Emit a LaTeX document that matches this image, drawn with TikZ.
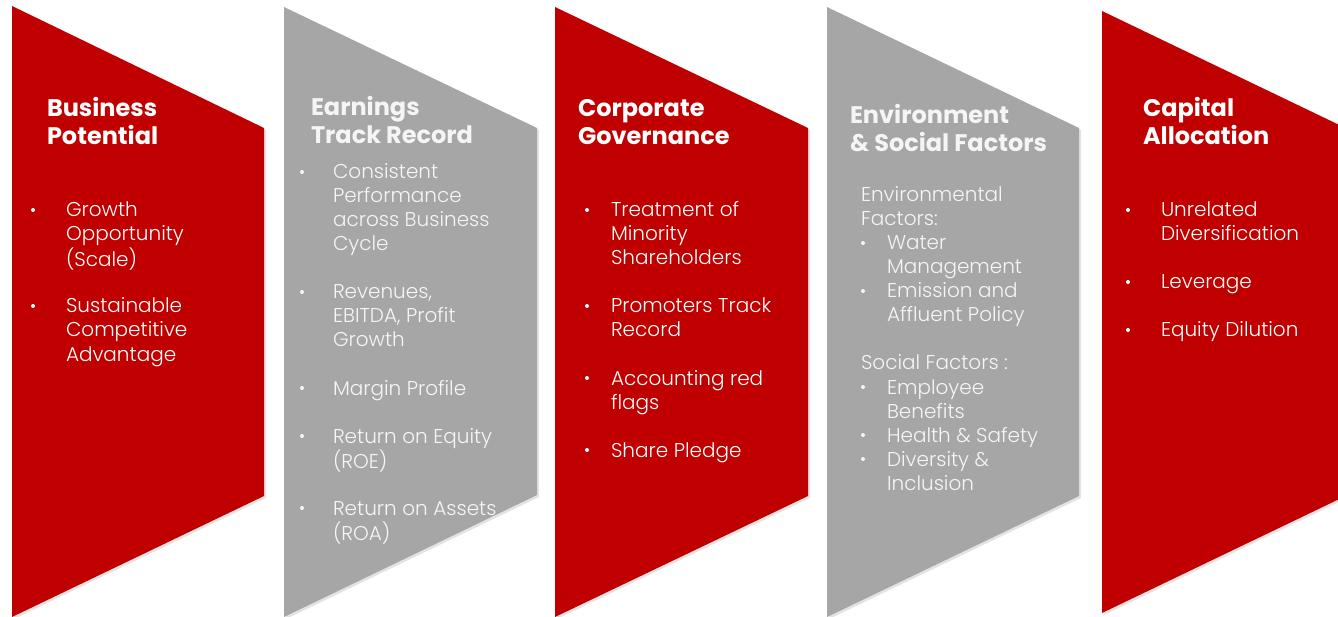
\documentclass[tikz,border=0pt]{standalone}
\usepackage{fontspec}
\setmainfont{Poppins}
\IfFontExistsTF{Poppins Light}{\newfontfamily\lightfam{Poppins Light}}{\newfontfamily\lightfam{Poppins}}
\usetikzlibrary{shadows}
\definecolor{bred}{HTML}{C00000}
\definecolor{bgray}{HTML}{A6A6A6}
\definecolor{gtext}{HTML}{F5F5F5}
\newcommand\bodyfnt{\lightfam\fontsize{20}{24}\selectfont}
\newcommand\titlefnt{\fontsize{24}{27.5}\selectfont\bfseries}
\newcommand\blk[1]{\begin{tabular}[t]{@{}l@{}}#1\end{tabular}}
\tikzset{
  panel/.style={draw=none, drop shadow={shadow xshift=2pt, shadow yshift=-2pt, opacity=0.22}},
  redpanel/.style={panel, fill=bred},
  graypanel/.style={panel, fill=bgray},
  txt/.style={anchor=base west, inner sep=0pt, outer sep=0pt, font=\bodyfnt},
  ttl/.style={anchor=base west, inner sep=0pt, outer sep=0pt, font=\titlefnt},
  bul/.style={circle, inner sep=0pt, minimum size=4pt},
  onred/.style={text=white, fill=white},
  ongray/.style={text=gtext, fill=gtext},
}
\begin{document}
\begin{tikzpicture}[x=1pt, y=-1pt]
\useasboundingbox (0,0) rectangle (1338,617);
% panels
\path[redpanel]  (12,6) -- (264,128) -- (264,496) -- (12,617) -- cycle;
\path[graypanel] (284,7) -- (537,128) -- (537,495) -- (284,617) -- cycle;
\path[redpanel]  (555,7) -- (808,128) -- (808,496) -- (555,617) -- cycle;
\path[graypanel] (827,7) -- (1079,128) -- (1079,496) -- (827,617) -- cycle;
\path[redpanel]  (1102,11) -- (1356,133) -- (1356,491) -- (1102,613) -- cycle;

% column 1
\node[ttl, text=white] (t1) at (47,117) {\blk{Business\\Potential}};
\node[bul, onred] (b1a) at (33,210) {};
\node[txt, text=white] (i1a) at (66,217) {\blk{Growth\\Opportunity\\(Scale)}};
\node[bul, onred] (b1b) at (33,306) {};
\node[txt, text=white] (i1b) at (66,313) {\blk{Sustainable\\Competitive\\Advantage}};

% column 2
\node[ttl, text=gtext] (t2) at (311,116) {\blk{Earnings\\Track Record}};
\node[bul, ongray] (b2a) at (302,172) {};
\node[txt, text=gtext] (i2a) at (333,179) {\blk{Consistent\\Performance\\across Business\\Cycle}};
\node[bul, ongray] (b2b) at (302,292) {};
\node[txt, text=gtext] (i2b) at (333,299) {\blk{Revenues,\\EBITDA, Profit\\Growth}};
\node[bul, ongray] (b2c) at (302,388) {};
\node[txt, text=gtext] (i2c) at (333,395) {\blk{Margin Profile}};
\node[bul, ongray] (b2d) at (302,436) {};
\node[txt, text=gtext] (i2d) at (333,443) {\blk{Return on Equity\\(ROE)}};
\node[bul, ongray] (b2e) at (302,508) {};
\node[txt, text=gtext] (i2e) at (333,515) {\blk{Return on Assets\\(ROA)}};

% column 3
\node[ttl, text=white] (t3) at (578,117) {\blk{Corporate\\Governance}};
\node[bul, onred] (b3a) at (587,210) {};
\node[txt, text=white] (i3a) at (611,217) {\blk{Treatment of\\Minority\\Shareholders}};
\node[bul, onred] (b3b) at (587,306) {};
\node[txt, text=white] (i3b) at (611,313) {\blk{Promoters Track\\Record}};
\node[bul, onred] (b3c) at (587,378) {};
\node[txt, text=white] (i3c) at (611,385) {\blk{Accounting red\\flags}};
\node[bul, onred] (b3d) at (587,450) {};
\node[txt, text=white] (i3d) at (611,457) {\blk{Share Pledge}};

% column 4
\node[ttl, text=gtext] (t4) at (850,124) {\blk{Environment\\\& Social Factors}};
\node[txt, text=gtext] (h4a) at (861,202) {\blk{Environmental\\Factors:}};
\node[bul, ongray] (b4a) at (863,243) {};
\node[txt, text=gtext] (i4a) at (887,250) {\blk{Water\\Management}};
\node[bul, ongray] (b4b) at (863,291) {};
\node[txt, text=gtext] (i4b) at (887,298) {\blk{Emission and\\Affluent Policy}};
\node[txt, text=gtext] (h4b) at (861,370) {\blk{Social Factors :}};
\node[bul, ongray] (b4c) at (863,387) {};
\node[txt, text=gtext] (i4c) at (887,394) {\blk{Employee\\Benefits}};
\node[bul, ongray] (b4d) at (863,435) {};
\node[txt, text=gtext] (i4d) at (887,442) {\blk{Health \& Safety}};
\node[bul, ongray] (b4e) at (863,459) {};
\node[txt, text=gtext] (i4e) at (887,466) {\blk{Diversity \&\\Inclusion}};

% column 5
\node[ttl, text=white] (t5) at (1143,117) {\blk{Capital\\Allocation}};
\node[bul, onred] (b5a) at (1128,210) {};
\node[txt, text=white] (i5a) at (1161,217) {\blk{Unrelated\\Diversification}};
\node[bul, onred] (b5b) at (1128,282) {};
\node[txt, text=white] (i5b) at (1161,289) {\blk{Leverage}};
\node[bul, onred] (b5c) at (1128,330) {};
\node[txt, text=white] (i5c) at (1161,337) {\blk{Equity Dilution}};
\end{tikzpicture}
\end{document}
